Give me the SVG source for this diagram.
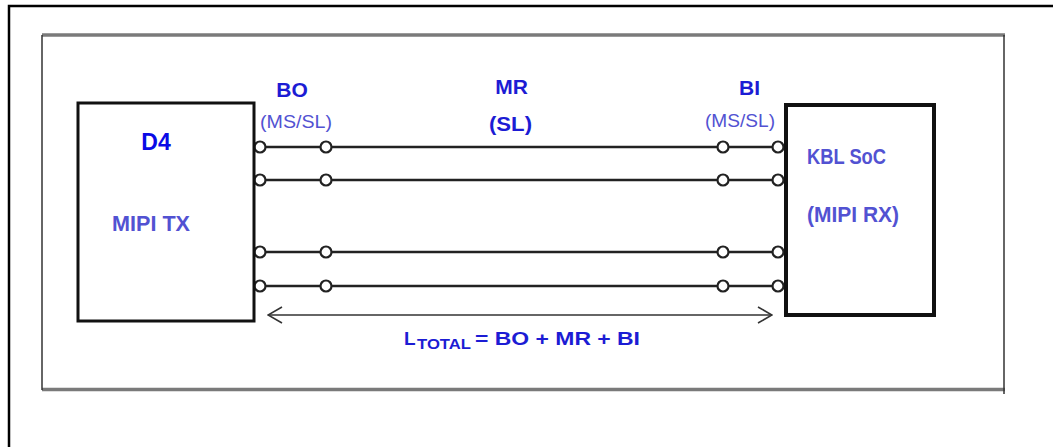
<svg xmlns="http://www.w3.org/2000/svg" width="1053" height="447" viewBox="0 0 1053 447">
  <style>
    .lbl { font-family: "Liberation Sans", Arial, sans-serif; font-weight: bold; fill: #1c1cd4; }
    .sub { font-family: "Liberation Sans", Arial, sans-serif; fill: #5252d2; }
    .subb { font-family: "Liberation Sans", Arial, sans-serif; font-weight: bold; fill: #5252d2; }
    .box { fill: #fff; stroke: #111; }
    .wire { stroke: #222; stroke-width: 2.6; fill: none; }
    .term { fill: #fff; stroke: #222; stroke-width: 2.2; }
  </style>
  <defs>
    <marker id="chev" viewBox="0 0 16 18" refX="15" refY="9" markerWidth="16" markerHeight="18" markerUnits="userSpaceOnUse" orient="auto-start-reverse">
      <path d="M1 1 L15 9 L1 17" fill="none" stroke="#333" stroke-width="1.6"/>
    </marker>
  </defs>
  <rect width="1053" height="447" fill="#fff"/>
  <g id="frame">
    <path d="M9 447 V6 H1053" fill="none" stroke="#000" stroke-width="2.5"/>
    <line x1="42" y1="35" x2="1005" y2="35" stroke="#7a7a7a" stroke-width="3.5"/>
    <line x1="42" y1="389.5" x2="1005" y2="389.5" stroke="#7a7a7a" stroke-width="3.5"/>
    <line x1="42" y1="35" x2="42" y2="390" stroke="#333" stroke-width="1.5"/>
    <line x1="1004" y1="35" x2="1004" y2="394" stroke="#333" stroke-width="1.5"/>
  </g>
  <g id="connectors">
    <line class="wire" x1="254" y1="147" x2="785" y2="147"/>
    <line class="wire" x1="254" y1="180" x2="785" y2="180"/>
    <line class="wire" x1="254" y1="252" x2="785" y2="252"/>
    <line class="wire" x1="254" y1="286" x2="785" y2="286"/>
    <circle class="term" cx="260" cy="147" r="5.5"/>
    <circle class="term" cx="326" cy="147" r="5.5"/>
    <circle class="term" cx="723" cy="147" r="5.5"/>
    <circle class="term" cx="778" cy="147" r="5.5"/>
    <circle class="term" cx="260" cy="180" r="5.5"/>
    <circle class="term" cx="326" cy="180" r="5.5"/>
    <circle class="term" cx="723" cy="180" r="5.5"/>
    <circle class="term" cx="778" cy="180" r="5.5"/>
    <circle class="term" cx="260" cy="252" r="5.5"/>
    <circle class="term" cx="326" cy="252" r="5.5"/>
    <circle class="term" cx="723" cy="252" r="5.5"/>
    <circle class="term" cx="778" cy="252" r="5.5"/>
    <circle class="term" cx="260" cy="286" r="5.5"/>
    <circle class="term" cx="326" cy="286" r="5.5"/>
    <circle class="term" cx="723" cy="286" r="5.5"/>
    <circle class="term" cx="778" cy="286" r="5.5"/>
    <line x1="268" y1="315" x2="772" y2="315" stroke="#333" stroke-width="1.6" marker-start="url(#chev)" marker-end="url(#chev)"/>
  </g>
  <g id="node-d4">
    <rect class="box" x="78" y="103" width="176" height="218" stroke-width="3"/>
    <text class="lbl" x="156" y="150" font-size="23" text-anchor="middle" style="fill:#0a0ae6">D4</text>
    <text class="subb" x="112" y="231" font-size="22" textLength="78" lengthAdjust="spacingAndGlyphs">MIPI TX</text>
  </g>
  <g id="node-kbl">
    <rect class="box" x="786" y="105" width="148" height="210" stroke-width="4"/>
    <text class="subb" x="807" y="164" font-size="22" textLength="79" lengthAdjust="spacingAndGlyphs">KBL SoC</text>
    <text class="subb" x="807" y="222" font-size="22" textLength="92" lengthAdjust="spacingAndGlyphs">(MIPI RX)</text>
  </g>
  <g id="labels">
    <text class="lbl" x="292" y="97" font-size="21" text-anchor="middle">BO</text>
    <text class="sub" x="260" y="128" font-size="19" textLength="72" lengthAdjust="spacingAndGlyphs">(MS/SL)</text>
    <text class="lbl" x="511.5" y="94" font-size="21" text-anchor="middle">MR</text>
    <text class="lbl" x="489" y="131" font-size="21" textLength="43" lengthAdjust="spacingAndGlyphs">(SL)</text>
    <text class="lbl" x="749.5" y="95" font-size="21" text-anchor="middle">BI</text>
    <text class="sub" x="705" y="127" font-size="19" textLength="70" lengthAdjust="spacingAndGlyphs">(MS/SL)</text>
    <text class="lbl" x="404" y="345" font-size="19">L</text>
    <text class="lbl" x="417" y="349" font-size="14" textLength="54" lengthAdjust="spacingAndGlyphs">TOTAL</text>
    <text class="lbl" x="475" y="345" font-size="19" textLength="165" lengthAdjust="spacingAndGlyphs">= BO + MR + BI</text>
  </g>
</svg>
